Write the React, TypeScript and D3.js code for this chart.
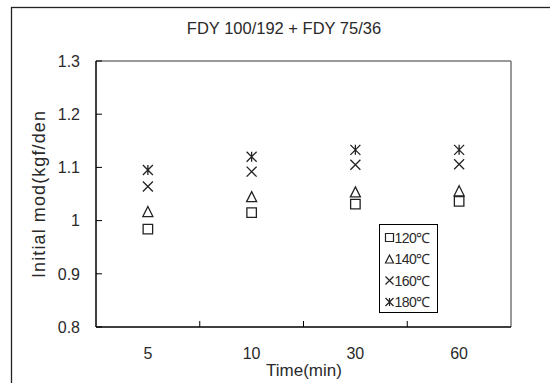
import React from 'react'
import * as d3 from 'd3'

const categories = ['5', '10', '30', '60']
const seriesNames = ['120℃', '140℃', '160℃', '180℃']
const values120 = [0.984, 1.015, 1.031, 1.036]
const values140 = [1.017, 1.045, 1.054, 1.056]
const values160 = [1.064, 1.092, 1.105, 1.106]
const values180 = [1.095, 1.120, 1.133, 1.133]
const yTicks = [0.8, 0.9, 1.0, 1.1, 1.2, 1.3]
const title = 'FDY 100/192 + FDY 75/36'
const xTitle = 'Time(min)'
const yTitle = 'Initial mod(kgf/den'

const series = [
  { name: seriesNames[0], shape: 'square', values: values120 },
  { name: seriesNames[1], shape: 'triangle', values: values140 },
  { name: seriesNames[2], shape: 'x', values: values160 },
  { name: seriesNames[3], shape: 'asterisk', values: values180 }
]

const font = '"Liberation Sans", Arial, sans-serif'
const ink = '#2a2a2a'

// marker path centered at 0,0
const markerPath = (shape: string, s: number) => {
  const h = s / 2
  const p = d3.path()
  if (shape === 'square') {
    p.rect(-h, -h, s, s)
  } else if (shape === 'triangle') {
    p.moveTo(0, -h)
    p.lineTo(h, h)
    p.lineTo(-h, h)
    p.closePath()
  } else {
    p.moveTo(-h, -h)
    p.lineTo(h, h)
    p.moveTo(h, -h)
    p.lineTo(-h, h)
    if (shape === 'asterisk') {
      p.moveTo(0, -h)
      p.lineTo(0, h)
    }
  }
  return p.toString()
}

const App = () => {
  const width = 550
  const height = 383
  const margin = { left: 96, right: 39, top: 61, bottom: 56 }
  const x0 = margin.left
  const x1 = width - margin.right
  const y0 = height - margin.bottom
  const y1 = margin.top

  const x = d3.scaleBand().domain(categories).range([x0, x1])
  const y = d3.scaleLinear().domain([0.8, 1.3]).range([y0, y1])
  const boundaries = categories.slice(1).map((c) => x(c) as number)

  return (
    <svg
      width={width}
      height={height}
      style={{ position: 'absolute', left: 0, top: 0, background: '#fff' }}
      fontFamily={font}
    >
      <rect x={11.5} y={7.5} width={600} height={500} fill="#fff" stroke="#222" strokeWidth={1.3} />

      <text x={284} y={34} textAnchor="middle" fontSize={16.5} fill={ink}>
        {title}
      </text>

      {/* frame */}
      <line x1={x0} x2={x1} y1={y1} y2={y1} stroke="#777" strokeWidth={1.3} />
      <line x1={x1} x2={x1} y1={y1} y2={y0} stroke="#777" strokeWidth={1.5} />
      <line x1={x0} x2={x0} y1={y1} y2={y0} stroke="#000" strokeWidth={1.5} />
      <line x1={x0} x2={x1} y1={y0} y2={y0} stroke="#000" strokeWidth={1.5} />

      {/* y ticks */}
      {yTicks.map((t) => (
        <g key={t}>
          <line x1={x0} x2={x0 + 6} y1={y(t)} y2={y(t)} stroke="#000" strokeWidth={1} />
          <text x={80} y={y(t)} dy="0.36em" textAnchor="end" fontSize={16} fill={ink}>
            {String(+t.toFixed(1))}
          </text>
        </g>
      ))}

      {/* x ticks */}
      {boundaries.map((b) => (
        <line key={b} x1={b} x2={b} y1={y0} y2={y0 - 6} stroke="#000" strokeWidth={1} />
      ))}
      {categories.map((c) => (
        <text
          key={c}
          x={(x(c) as number) + x.bandwidth() / 2}
          y={359}
          textAnchor="middle"
          fontSize={16}
          fill={ink}
        >
          {c}
        </text>
      ))}

      <text x={304} y={376} textAnchor="middle" fontSize={17} fill={ink}>
        {xTitle}
      </text>
      <text
        transform={`translate(45, ${(y0 + y1) / 2}) rotate(-90)`}
        textAnchor="middle"
        fontSize={18}
        letterSpacing={1.1}
        fill={ink}
      >
        {yTitle}
      </text>

      {/* points */}
      {series.map((s) =>
        s.values.map((v, i) => (
          <path
            key={s.name + i}
            d={markerPath(s.shape, s.shape === 'square' ? 9.5 : 10)}
            transform={`translate(${(x(categories[i]) as number) + x.bandwidth() / 2}, ${y(v)})`}
            fill="none"
            stroke="#222"
            strokeWidth={1.3}
          />
        ))
      )}

      {/* legend */}
      <g transform="translate(379.5, 224.5)">
        <rect width={58} height={88} fill="#fff" stroke="#000" strokeWidth={1} />
        {series.map((s, i) => (
          <g key={s.name} transform={`translate(0, ${13 + i * 21.5})`}>
            <path
              d={markerPath(s.shape, 8)}
              transform="translate(10, 0)"
              fill="none"
              stroke="#222"
              strokeWidth={1.2}
            />
            <text x={15} y={0} dy="0.36em" fontSize={14} letterSpacing={-0.5} fill={ink}>
              {s.name}
            </text>
          </g>
        ))}
      </g>
    </svg>
  )
}

export default App
